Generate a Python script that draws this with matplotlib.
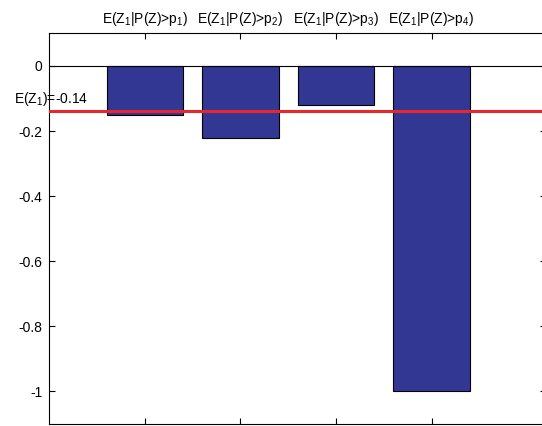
import matplotlib
matplotlib.use("Agg")
import matplotlib.pyplot as plt

plt.rcParams['font.family'] = ['Liberation Sans', 'DejaVu Sans']
plt.rcParams['mathtext.fontset'] = 'custom'
plt.rcParams['mathtext.rm'] = 'Liberation Sans'

positions = [1, 2, 3, 4]
values = [-0.15, -0.22, -0.12, -1.0]
labels = [r'E(Z$_1$|P(Z)>p$_1$)', r'E(Z$_1$|P(Z)>p$_2$)',
          r'E(Z$_1$|P(Z)>p$_3$)', r'E(Z$_1$|P(Z)>p$_4$)']
mean_z1 = -0.14
yticks = [0, -0.2, -0.4, -0.6, -0.8, -1]
yticklabels = ['0', '-0.2', '-0.4', '-0.6', '-0.8', '-1']

fig = plt.figure(figsize=(5.42, 4.26), dpi=100)
ax = fig.add_axes([0.091, 0.0047, 0.917, 0.917])

ax.bar(positions, values, width=0.8, color='#333794', edgecolor='black', linewidth=0.8, zorder=2)
ax.axhline(0, color='black', linewidth=0.8, zorder=3)
ax.axhline(mean_z1, color='#e8262b', linewidth=2.2, zorder=4)
ax.text(-0.37, mean_z1 + 0.012, r'E(Z$_\mathrm{1}$)=%.2f' % mean_z1, fontsize=10,
        ha='left', va='bottom', clip_on=False, zorder=5)

ax.set_xlim(0, 5.2)
ax.set_ylim(-1.1, 0.1)
ax.set_xticks(positions)
ax.set_xticklabels(labels, fontsize=10)
ax.set_yticks(yticks)
ax.set_yticklabels(yticklabels, fontsize=10)
ax.xaxis.tick_top()
ax.tick_params(axis='both', direction='in', length=4, width=0.8, top=True, bottom=True, left=True, right=True)
ax.tick_params(axis='x', pad=4)
ax.tick_params(axis='y', pad=5)
ax.spines['right'].set_visible(False)
for s in ['top', 'bottom', 'left']:
    ax.spines[s].set_linewidth(0.8)

fig.savefig('out.png', dpi=100)
